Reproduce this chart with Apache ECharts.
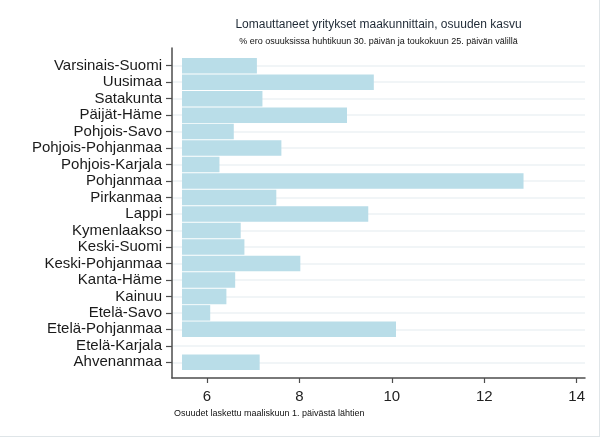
<!DOCTYPE html>
<html>
<head>
<meta charset="utf-8">
<script src="https://cdn.jsdelivr.net/npm/echarts@6/dist/echarts.min.js"></script>
<style>
html,body{margin:0;padding:0;background:#fff;}
#chart{width:602px;height:438px;}
</style>
</head>
<body>
<div id="chart"></div>
<script>
const categories = ["Varsinais-Suomi","Uusimaa","Satakunta","Päijät-Häme","Pohjois-Savo","Pohjois-Pohjanmaa","Pohjois-Karjala","Pohjanmaa","Pirkanmaa","Lappi","Kymenlaakso","Keski-Suomi","Keski-Pohjanmaa","Kanta-Häme","Kainuu","Etelä-Savo","Etelä-Pohjanmaa","Etelä-Karjala","Ahvenanmaa"];
const values = [7.08,9.61,7.20,9.03,6.58,7.61,6.27,12.85,7.50,9.49,6.73,6.81,8.02,6.61,6.42,6.07,10.09,5.46,7.14];
const barBase = 5.46;
const xTicks = [6,8,10,12,14];
const xMin = 5.243, xMax = 14.18;
const titleText = "Lomauttaneet yritykset maakunnittain, osuuden kasvu";
const subtitleText = "% ero osuuksissa huhtikuun 30. päivän ja toukokuun 25. päivän välillä";
const noteText = "Osuudet laskettu maaliskuun 1. päivästä lähtien";

const baseData = values.map(() => barBase);
const lenData = values.map(v => +(v - barBase).toFixed(4));

const FONT = "Liberation Sans, Arial, sans-serif";
const chart = echarts.init(document.getElementById('chart'), null, {renderer:'canvas'});
const L = 172, R = 17;
chart.setOption({
  animation:false,
  backgroundColor:'#ffffff',
  grid:[
    {left:L, right:R, top:48, height:330, containLabel:false},
    {left:L, right:R, top:65.7, height:296.6, containLabel:false}
  ],
  xAxis:[
    {gridIndex:0, type:'value', min:xMin, max:xMax,
     axisLine:{show:true, lineStyle:{color:'#4d4d4d', width:1.5}},
     axisTick:{show:true, length:5, lineStyle:{color:'#4d4d4d', width:1.2}, customValues:xTicks},
     axisLabel:{show:true, customValues:xTicks, margin:11, fontFamily:FONT, fontSize:15, color:'#222'},
     splitLine:{show:false}},
    {gridIndex:1, type:'value', min:xMin, max:xMax, show:false}
  ],
  yAxis:[
    {gridIndex:0, type:'value', min:0, max:1,
     axisLine:{show:true, lineStyle:{color:'#4d4d4d', width:1.5}},
     axisTick:{show:false}, axisLabel:{show:false}, splitLine:{show:false}},
    {gridIndex:1, type:'category', data:categories, inverse:true, boundaryGap:false,
     axisLine:{show:false},
     axisTick:{show:true, length:6, interval:0, lineStyle:{color:'#4d4d4d', width:1.2}},
     axisLabel:{interval:0, margin:10, fontFamily:FONT, fontSize:15, color:'#1a1a1a'},
     splitLine:{show:true, interval:0, lineStyle:{color:'#edf2f4', width:1.5}}}
  ],
  series:[
    {type:'bar', xAxisIndex:1, yAxisIndex:1, stack:'s', data:baseData, clip:false, silent:true,
     itemStyle:{color:'rgba(0,0,0,0)'}, barCategoryGap:'6%'},
    {type:'bar', xAxisIndex:1, yAxisIndex:1, stack:'s', data:lenData, clip:false,
     itemStyle:{color:'#b9dde8'}, barCategoryGap:'6%'}
  ],
  graphic:[
    {type:'text', style:{text:titleText, x:378.5, y:25, textAlign:'center', textVerticalAlign:'middle', font:'12px '+FONT, fill:'#1f2a36'}},
    {type:'text', style:{text:subtitleText, x:378.5, y:42, textAlign:'center', textVerticalAlign:'middle', font:'9px '+FONT, fill:'#111'}},
    {type:'text', style:{text:noteText, x:174, y:414, textAlign:'left', textVerticalAlign:'middle', font:'9px '+FONT, fill:'#111'}},
    {type:'line', shape:{x1:599.5, y1:0, x2:599.5, y2:437}, style:{stroke:'#dfe5e8', lineWidth:1}},
    {type:'line', shape:{x1:0, y1:436.5, x2:600, y2:436.5}, style:{stroke:'#dfe5e8', lineWidth:1}}
  ]
});
</script>
</body>
</html>
